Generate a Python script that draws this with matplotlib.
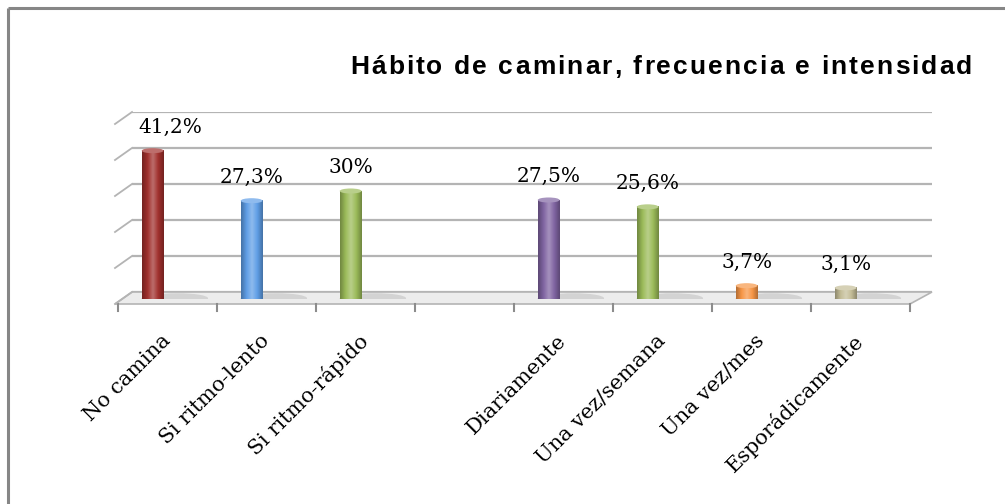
import numpy as np
import matplotlib
matplotlib.use('Agg')
import matplotlib.pyplot as plt
from matplotlib.colors import LinearSegmentedColormap, to_rgb
from matplotlib.patches import Ellipse, Polygon
from matplotlib.font_manager import FontProperties

# data (blank slot between the two groups)
categories = ['No camina', 'Si ritmo-lento', 'Si ritmo-rápido', '',
              'Diariamente', 'Una vez/semana', 'Una vez/mes', 'Esporádicamente']
values = [41.2, 27.3, 30, None, 27.5, 25.6, 3.7, 3.1]
labels = ['41,2%', '27,3%', '30%', '', '27,5%', '25,6%', '3,7%', '3,1%']
colors = ['#a0302d', '#5f9ee6', '#9bbb59', None, '#8064a2', '#9bbb59', '#f79646', '#c4bd97']
title = 'Hábito de caminar, frecuencia e intensidad'

W, H = 1005, 504
fig = plt.figure(figsize=(W / 100, H / 100), dpi=100)

def frac(x0, y0, x1, y1):
    # pixel box (top-left origin) -> figure fraction
    return [x0 / W, 1 - y1 / H, (x1 - x0) / W, (y1 - y0) / H]

# background decorations in pixel coords
deco = fig.add_axes([0, 0, 1, 1], zorder=0)
deco.set_xlim(0, W)
deco.set_ylim(H, 0)
deco.axis('off')
deco.plot([8, 8], [H, 8], color='#868686', lw=2.2, solid_capstyle='butt')
deco.plot([8, W], [8, 8], color='#868686', lw=2.2, solid_capstyle='butt')

n = len(categories)
x_left, x_right = 118, 910
step = (x_right - x_left) / n
depth_x, depth_y = 17, 12
floor_front = 304

# floor
deco.add_patch(Polygon([(x_left - 3, floor_front), (x_right, floor_front),
                        (x_right + depth_x + 5, floor_front - depth_y),
                        (x_left + depth_x - 3, floor_front - depth_y)],
                       closed=True, facecolor='#ececec', edgecolor='#b4b4b4', lw=1.2))
for i in range(n + 1):
    xt = x_left + step * i
    deco.plot([xt, xt], [floor_front, floor_front + 7], color='#8c8c8c', lw=1.5)

# left side-wall diagonals
for k in range(6):
    y = floor_front - 36 * k
    deco.plot([x_left - 3, x_left + depth_x - 3], [y, y - depth_y], color='#b4b4b4', lw=1.3)

# back wall with gridlines
wall = fig.add_axes(frac(x_left + depth_x - 3, 112, x_right + depth_x + 5, 292), zorder=1)
wall.set_ylim(0, 50)
wall.set_yticks(np.arange(0, 51, 10))
wall.set_xticks([])
wall.yaxis.grid(True, color='#b4b4b4', lw=1.6)
wall.tick_params(left=False, labelleft=False)
for s in wall.spines.values():
    s.set_visible(False)
wall.patch.set_alpha(0)

# bars
ax = fig.add_axes(frac(x_left, 119, x_right, 299), zorder=2)
ax.patch.set_alpha(0)
bw = 0.22
for i, (v, c, lab) in enumerate(zip(values, colors, labels)):
    if v is None:
        continue
    xc = i + 0.35
    base = np.array(to_rgb(c))
    dark = base * 0.72
    light = np.clip(base + (1 - base) * 0.3, 0, 1)
    cmap = LinearSegmentedColormap.from_list('cyl', [dark, base, light, base, dark])
    grad = np.linspace(0, 1, 64).reshape(1, -1)
    # soft shadow on floor
    ax.add_patch(Ellipse((xc + 0.25, 0.2), 0.62, 2.8, color='#9a9a9a', alpha=0.3, lw=0, zorder=1))
    ax.imshow(grad, cmap=cmap, extent=[xc - bw / 2, xc + bw / 2, 0, v],
              aspect='auto', zorder=2, interpolation='bicubic')
    ax.add_patch(Ellipse((xc, 0), bw, 1.4, color=dark, zorder=1.9, lw=0))
    ax.add_patch(Ellipse((xc, v), bw, 1.4, color=light, zorder=3, lw=0))
    dx = 13 if i == 0 else 0
    ax.annotate(lab, (xc, v), xytext=(dx, 10), textcoords='offset points',
                ha='center', va='bottom', fontsize=14.5, family='DejaVu Serif', color='black')

ax.set_xlim(0, n)
ax.set_ylim(0, 50)
ax.set_xticks(np.arange(n) + 0.5)
ax.set_xticklabels(categories, rotation=45, ha='right', rotation_mode='anchor',
                   va='center', fontsize=15, family='DejaVu Serif')
ax.tick_params(axis='x', length=0, pad=28)
ax.set_yticks([])
for s in ax.spines.values():
    s.set_visible(False)

# title with some letter spacing, spread from x=350 to x=972 px
prop = FontProperties(family='Liberation Sans', weight='bold', size=19)
renderer = fig.canvas.get_renderer()
widths = [renderer.get_text_width_height_descent(ch, prop, ismath=False)[0] for ch in title]
t_start, t_end = 350, 972
gap = (t_end - t_start - sum(widths)) / (len(title) - 1)
xpos = t_start
for ch, w in zip(title, widths):
    fig.text(xpos / W, 1 - 67 / H, ch, ha='left', va='center', fontproperties=prop)
    xpos += w + gap

fig.savefig('out.png', dpi=100)
